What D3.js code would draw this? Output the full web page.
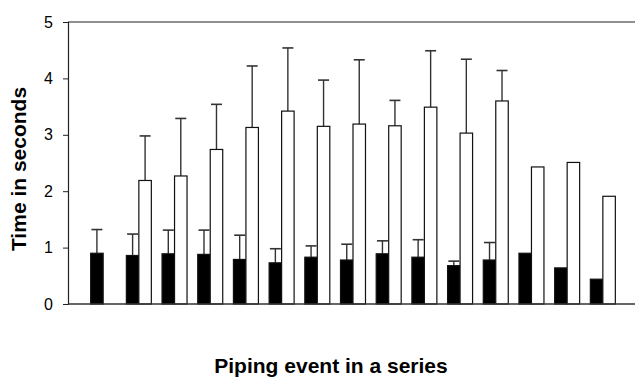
<!DOCTYPE html>
<html>
<head>
<meta charset="utf-8">
<script src="https://cdn.jsdelivr.net/npm/d3@7"></script>
<style>
  body { margin: 0; background: #fff; }
  text { font-family: Arial, "Liberation Sans", sans-serif; fill: #000; }
</style>
</head>
<body>
<div id="chart"></div>
<script>
// piping event number in the series
const events = [1, 2, 3, 4, 5, 6, 7, 8, 9, 10, 11, 12, 13, 14, 15];
const series = ['black', 'white'];

// mean time (s) and upper error for each series
const blackMeans = [0.90, 0.86, 0.89, 0.88, 0.79, 0.73, 0.83, 0.78, 0.89, 0.83, 0.68, 0.78, 0.90, 0.64, 0.44];
const blackErr   = [0.42, 0.38, 0.42, 0.43, 0.43, 0.25, 0.20, 0.28, 0.23, 0.31, 0.08, 0.31, 0, 0, 0];
const whiteMeans = [null, 2.19, 2.27, 2.74, 3.13, 3.42, 3.15, 3.19, 3.16, 3.49, 3.03, 3.60, 2.43, 2.51, 1.91];
const whiteErr   = [0, 0.79, 1.02, 0.80, 1.09, 1.12, 0.82, 1.14, 0.45, 1.00, 1.31, 0.54, 0, 0, 0];

const yTicks = [0, 1, 2, 3, 4, 5];

const width = 635;
const height = 378;

const svg = d3.select('#chart')
    .append('svg')
        .attr('width', width)
        .attr('height', height);

const xScale = d3.scaleBand()
    .domain(events)
    .range([68, 638])
    .paddingInner(0.3)
    .paddingOuter(0.635);

const xSub = d3.scaleBand()
    .domain(series)
    .range([0, xScale.bandwidth()]);

const yScale = d3.scaleLinear()
    .domain([0, 5])
    .range([304, 22]);

// build rows for both series
const rows = [];
events.forEach((e, i) => {
    if (blackMeans[i] != null) rows.push({event: e, s: 'black', v: blackMeans[i], err: blackErr[i]});
    if (whiteMeans[i] != null) rows.push({event: e, s: 'white', v: whiteMeans[i], err: whiteErr[i]});
});

// top frame line
svg.append('line')
    .attr('x1', 68).attr('x2', width)
    .attr('y1', yScale(5)).attr('y2', yScale(5))
    .attr('stroke', '#222')
    .attr('stroke-width', 1.2);

// error bars (drawn behind bars)
const errRows = rows.filter(d => d.err > 0);
const cx = d => xScale(d.event) + xSub(d.s) + xSub.bandwidth() / 2;
svg.selectAll('.err')
    .data(errRows)
    .enter()
        .append('line')
            .attr('x1', cx).attr('x2', cx)
            .attr('y1', d => yScale(d.v))
            .attr('y2', d => yScale(d.v + d.err))
            .attr('stroke', '#333')
            .attr('stroke-width', 1.4);
svg.selectAll('.cap')
    .data(errRows)
    .enter()
        .append('line')
            .attr('x1', d => cx(d) - 5.5).attr('x2', d => cx(d) + 5.5)
            .attr('y1', d => yScale(d.v + d.err))
            .attr('y2', d => yScale(d.v + d.err))
            .attr('stroke', '#333')
            .attr('stroke-width', 1.6);

// bars
svg.selectAll('rect')
    .data(rows)
    .enter()
        .append('rect')
            .attr('x', d => xScale(d.event) + xSub(d.s))
            .attr('y', d => yScale(d.v))
            .attr('width', xSub.bandwidth())
            .attr('height', d => yScale(0) - yScale(d.v))
            .attr('fill', d => d.s === 'black' ? '#000' : '#fff')
            .attr('stroke', '#111')
            .attr('stroke-width', 1.2);

// y axis
const yAxis = svg.append('g')
    .attr('transform', 'translate(68, 0)')
    .call(d3.axisLeft(yScale).tickValues(yTicks).tickFormat(d3.format('d')).tickSize(5).tickPadding(10));
yAxis.select('.domain').attr('stroke', '#222').attr('stroke-width', 1.2);
yAxis.selectAll('.tick line').attr('stroke', '#222');
yAxis.selectAll('text')
    .style('font-size', '16px')
    .attr('fill', '#000');

// x baseline
svg.append('line')
    .attr('x1', 68).attr('x2', width)
    .attr('y1', yScale(0)).attr('y2', yScale(0))
    .attr('stroke', '#333')
    .attr('stroke-width', 1.4);

// axis titles
svg.append('text')
    .attr('x', 331)
    .attr('y', 373)
    .attr('text-anchor', 'middle')
    .style('font-size', '21px')
    .style('font-weight', 'bold')
    .text('Piping event in a series');

svg.append('text')
    .attr('transform', 'translate(26, 169) rotate(-90)')
    .attr('text-anchor', 'middle')
    .style('font-size', '21px')
    .style('font-weight', 'bold')
    .text('Time in seconds');
</script>
</body>
</html>
